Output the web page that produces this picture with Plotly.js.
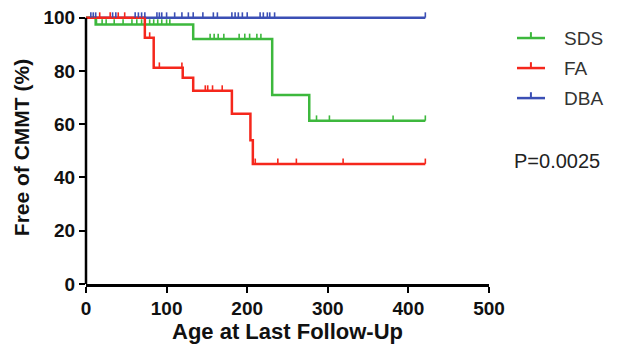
<!DOCTYPE html>
<html>
<head>
<meta charset="utf-8">
<script src="https://cdn.plot.ly/plotly-3.0.1.min.js"></script>
<style>html,body{margin:0;padding:0;background:#fff;}#chart{width:617px;height:346px;}</style>
</head>
<body>
<div id="chart"></div>
<script>
// Kaplan-Meier step data (time, % free of CMMT)
var sdsTime = [0, 12, 133, 231, 277, 421];
var sdsSurv = [100, 97.4, 92, 71, 61.3, 61.3];
var faTime  = [0, 73, 84, 120, 133, 181, 204, 207, 421];
var faSurv  = [100, 92.5, 81.2, 77.4, 72.6, 63.9, 54, 45.1, 45.1];
var dbaTime = [0, 421];
var dbaSurv = [100, 100];

// censored observations
var sdsCensT = [13, 20, 25, 35, 46, 57, 63, 69, 79, 84, 89, 94, 100, 104, 154, 159, 164, 171, 190, 197, 203, 212, 217, 286, 302, 381, 421];
var sdsCensS = [97.4, 97.4, 97.4, 97.4, 97.4, 97.4, 97.4, 97.4, 97.4, 97.4, 97.4, 97.4, 97.4, 97.4, 92, 92, 92, 92, 92, 92, 92, 92, 92, 61.3, 61.3, 61.3, 61.3];
var faCensT  = [17, 30, 40, 48, 79, 91, 119, 148, 151, 157, 169, 210, 238, 261, 319, 421];
var faCensS  = [100, 100, 100, 100, 92.5, 81.2, 81.2, 72.6, 72.6, 72.6, 72.6, 45.1, 45.1, 45.1, 45.1, 45.1];
var dbaCensT = [6, 9, 12, 33, 37, 61, 65, 69, 73, 88, 91, 94, 100, 110, 119, 127, 133, 145, 158, 163, 181, 185, 189, 194, 200, 216, 220, 225, 228, 234, 421];
var dbaCensS = dbaCensT.map(function(){ return 100; });

var groupNames = ['SDS', 'FA', 'DBA'];
var xTicks = [0, 100, 200, 300, 400, 500];
var yTicks = [0, 20, 40, 60, 80, 100];
var pText = 'P=0.0025';

var colors = ['#3db83d', '#f5271c', '#3b4fb5'];
var censTickLen = 2.0;

function stepTrace(x, y, c) {
  return {x: x, y: y, type: 'scatter', mode: 'lines', line: {shape: 'hv', color: c, width: 2.5},
          cliponaxis: false, showlegend: false, hoverinfo: 'skip'};
}
function censTrace(x, y, c) {
  return {x: x, y: y, type: 'scatter', mode: 'markers', marker: {size: 1, color: c, opacity: 0},
          error_y: {type: 'data', symmetric: false, array: x.map(function(){return censTickLen;}),
                    arrayminus: x.map(function(){return 0;}), color: c, thickness: 1.6, width: 0},
          cliponaxis: false, showlegend: false, hoverinfo: 'skip'};
}

var data = [
  stepTrace(dbaTime, dbaSurv, colors[2]),
  stepTrace(sdsTime, sdsSurv, colors[0]),
  stepTrace(faTime, faSurv, colors[1]),
  censTrace(dbaCensT, dbaCensS, colors[2]),
  censTrace(sdsCensT, sdsCensS, colors[0]),
  censTrace(faCensT, faCensS, colors[1])
];

var fontFam = 'Liberation Sans, Arial, sans-serif';
var legY = [0.901, 0.791, 0.681];
var shapes = [
  // y-axis line from 0 to 100 only
  {type: 'line', xref: 'paper', yref: 'y', x0: 0, x1: 0, y0: 0, y1: 100, line: {color: '#000', width: 2.5}}
];
var annotations = [];
groupNames.forEach(function(n, i) {
  shapes.push({type: 'line', xref: 'paper', yref: 'paper', x0: 1.0695, x1: 1.139, y0: legY[i], y1: legY[i],
               line: {color: colors[i], width: 2.5}});
  shapes.push({type: 'line', xref: 'paper', yref: 'paper', x0: 1.104, x1: 1.104, y0: legY[i], y1: legY[i] + 0.0215,
               line: {color: colors[i], width: 2}});
  annotations.push({xref: 'paper', yref: 'paper', x: 1.181, y: legY[i], xanchor: 'left', yanchor: 'middle',
                    text: n, showarrow: false, font: {family: fontFam, size: 19, color: '#333'}});
});
annotations.push({xref: 'paper', yref: 'paper', x: 1.057, y: 0.4505, xanchor: 'left', yanchor: 'middle',
                  text: pText, showarrow: false, font: {family: fontFam, size: 20, color: '#222'}});

var tickFont = {family: fontFam, size: 19, color: '#111', weight: 900};
var layout = {
  width: 617, height: 346,
  margin: {l: 86, r: 128, t: 11, b: 62},
  paper_bgcolor: '#fff', plot_bgcolor: '#fff',
  showlegend: false,
  xaxis: {range: [0, 500], tickvals: xTicks, ticktext: xTicks.map(function(v){return '<b>' + v + '</b>';}),
          showgrid: false, zeroline: false,
          showline: true, linecolor: '#000', linewidth: 2.5, ticks: 'outside', ticklen: 6, tickwidth: 2, tickcolor: '#000',
          tickfont: tickFont,
          title: {text: '<b>Age at Last Follow-Up</b>', font: {family: fontFam, size: 22, color: '#111'}, standoff: 5}},
  yaxis: {range: [0, 102.5], tickvals: yTicks, ticktext: yTicks.map(function(v){return '<b>' + v + '</b>';}),
          showgrid: false, zeroline: false,
          showline: false, ticks: 'outside', ticklen: 6, tickwidth: 2, tickcolor: '#000',
          tickfont: tickFont,
          title: {text: '<b>Free of CMMT (%)</b>', font: {family: fontFam, size: 21, color: '#111'}, standoff: 8}},
  shapes: shapes,
  annotations: annotations
};

Plotly.newPlot('chart', data, layout, {displayModeBar: false, staticPlot: true});
</script>
</body>
</html>
